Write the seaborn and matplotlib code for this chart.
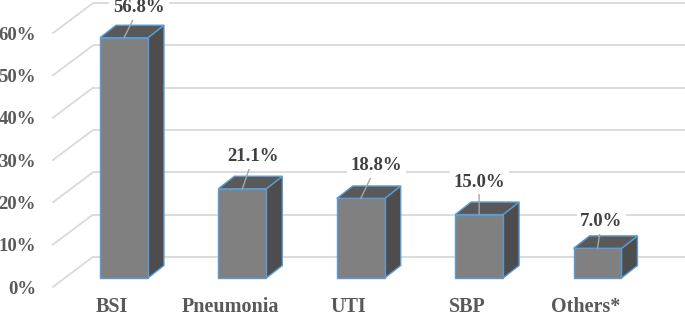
import matplotlib
matplotlib.use("Agg")
import matplotlib.pyplot as plt
import seaborn as sns
import pandas as pd
from matplotlib.patches import Polygon
from matplotlib.transforms import ScaledTranslation

# ---------------- data ----------------
categories = ["BSI", "Pneumonia", "UTI", "SBP", "Others*"]
values = [56.8, 21.1, 18.8, 15.0, 7.0]
value_labels = ["56.8%", "21.1%", "18.8%", "15.0%", "7.0%"]
y_ticks = [0, 10, 20, 30, 40, 50, 60]
y_tick_labels = ["0%", "10%", "20%", "30%", "40%", "50%", "60%"]

# ---------------- style ----------------
FRONT = "#808080"
SIDE = "#4d4d4d"
TOP = "#595959"
EDGE = "#5b9bd5"
GRID = "#d9d9d9"
TXT = "#595959"
VTXT = "#404040"

sns.set_theme(style="white")
plt.rcParams["font.family"] = ["Liberation Serif", "DejaVu Serif"]
plt.rcParams["font.weight"] = "bold"

W, H, DPI = 685, 318, 100
fig = plt.figure(figsize=(W / DPI, H / DPI), dpi=DPI)
ax_l, ax_b, ax_w, ax_h = 64.8, 40.0, 591.9, 253.8
ax = fig.add_axes([ax_l / W, ax_b / H, ax_w / W, ax_h / H])

df = pd.DataFrame({"cat": categories, "val": values})
sns.barplot(data=df, x="cat", y="val", color=FRONT, saturation=1, width=0.405,
            edgecolor=EDGE, linewidth=1.0, ax=ax, zorder=3)
ax.set_xlim(-0.5, len(categories) - 0.5)
ax.set_ylim(0, 60)

# pixel -> data conversions
px_x = ax_w / (len(categories))
px_y = ax_h / 60.0
def dxp(p):
    return p / px_x
def dyp(p):
    return p / px_y

bar_dx, bar_dy = dxp(16), dyp(12.5)      # bar depth
wall_dx, wall_dy = dxp(28), dyp(21)      # back wall
floor_dx, floor_dy = dxp(-12), dyp(-9)   # front edge of floor

# gridlines on back wall + diagonals on left wall
x0, x1 = ax.get_xlim()
for v in y_ticks:
    ax.plot([x0 + wall_dx, x1 + wall_dx], [v + wall_dy, v + wall_dy],
            color=GRID, lw=1.3, zorder=0, clip_on=False, solid_capstyle="butt")
    ax.plot([x0 + floor_dx, x0 + wall_dx], [v + floor_dy, v + wall_dy],
            color=GRID, lw=1.3, zorder=0, clip_on=False)

# 3D sides and tops from seaborn's bars
for p in list(ax.patches):
    bx, bw, bh = p.get_x(), p.get_width(), p.get_height()
    side = Polygon([(bx + bw, 0), (bx + bw + bar_dx, bar_dy),
                    (bx + bw + bar_dx, bh + bar_dy), (bx + bw, bh)],
                   closed=True, facecolor=SIDE, edgecolor=EDGE, lw=1.0,
                   zorder=2.5, clip_on=False)
    top = Polygon([(bx, bh), (bx + bar_dx, bh + bar_dy),
                   (bx + bw + bar_dx, bh + bar_dy), (bx + bw, bh)],
                  closed=True, facecolor=TOP, edgecolor=EDGE, lw=1.0,
                  zorder=2.5, clip_on=False)
    ax.add_patch(side)
    ax.add_patch(top)
    p.set_clip_on(False)

# value labels with leader lines
label_offsets = [(15, 30), (11, 32), (15.5, 32.5), (0, 32.5), (4, 27)]
for i, (v, lab) in enumerate(zip(values, value_labels)):
    ox, oy = label_offsets[i]
    ax.annotate(lab, xy=(i, v), xytext=(ox, oy), textcoords="offset pixels",
                ha="center", va="center", fontsize=13.5, fontweight="bold",
                color=VTXT, zorder=6, annotation_clip=False,
                bbox=dict(boxstyle="square,pad=0.2", fc="white", ec="none"),
                arrowprops=dict(arrowstyle="-", color="#a6a6a6", lw=1.0,
                                shrinkA=0, shrinkB=0))

# axes cosmetics
for s in ax.spines.values():
    s.set_visible(False)
ax.grid(False)
ax.set_xlabel("")
ax.set_ylabel("")
ax.set_yticks(y_ticks, y_tick_labels)
ax.set_xticks(range(len(categories)), categories)
ax.tick_params(axis="y", length=0, pad=20.7, labelsize=13.5, labelcolor=TXT)
ax.tick_params(axis="x", length=0, pad=13.5, labelsize=14.5, labelcolor=TXT)
for lbl in ax.get_yticklabels():
    lbl.set_fontweight("bold")
    lbl.set_transform(lbl.get_transform() + ScaledTranslation(0, -0.09, fig.dpi_scale_trans))
for lbl in ax.get_xticklabels():
    lbl.set_fontweight("bold")
    lbl.set_transform(lbl.get_transform() + ScaledTranslation(-0.12, 0, fig.dpi_scale_trans))

fig.savefig("out.png", dpi=DPI, facecolor="white")
